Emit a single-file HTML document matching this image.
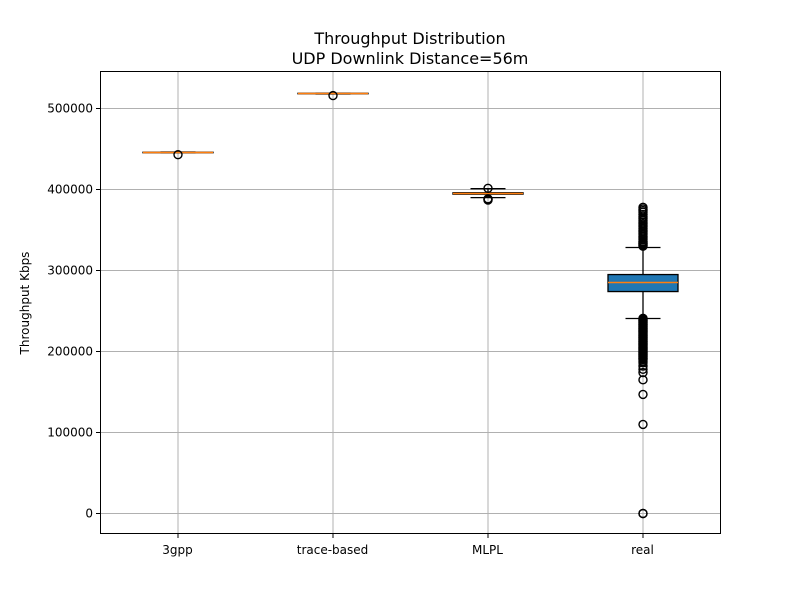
<!DOCTYPE html>
<html><head><meta charset="utf-8"><style>
body{margin:0;background:#fff;}
svg{display:block;font-family:"DejaVu Sans","Liberation Sans",sans-serif;}
</style></head><body>
<svg id="chart" width="800" height="600" viewBox="0 0 800 600">
<rect x="0" y="0" width="800" height="600" fill="#fff"/>
<text x="410" y="44" text-anchor="middle" font-size="16">Throughput Distribution</text>
<text x="410" y="64" text-anchor="middle" font-size="16">UDP Downlink Distance=56m</text>
<text transform="translate(29,303) rotate(-90)" text-anchor="middle" font-size="12">Throughput Kbps</text>
<g id="grid"></g><g id="marks"></g><g id="axes"></g>
</svg>
<script>
const categories=["3gpp","trace-based","MLPL","real"];
const q1s=[445500,518300,394200,274000];
const medians=[445700,518500,395000,285200];
const q3s=[446000,518800,396000,295000];
const whisLo=[445300,518000,390000,240700];
const whisHi=[446200,519000,401000,328400];
const outliers3gpp=[443000];
const outliersTrace=[516000];
const outliersMLPL=[401500,388500,387500,387000];
const outliersReal=[378000,376000,374000,372000,369000,366000,364000,362000,360000,358000,356000,354000,352000,350000,348000,346000,344000,342000,340000,338000,336000,335000,334000,333000,332000,331000,330000,
 241000,240000,239000,238000,237000,236000,235000,234000,233000,232000,231000,230000,229000,228000,227000,226000,225000,224000,223000,222000,221000,220000,219000,218000,217000,216000,215000,214000,213000,212000,211000,210000,209000,208000,207000,206000,205000,204000,203000,202000,201000,200000,199000,198000,197000,196000,195000,194000,193000,192000,191000,190000,188000,186000,
 182000,178000,174000,165000,147000,110000,0,0];
const yTicks=[0,100000,200000,300000,400000,500000];
const outlierSets=[outliers3gpp,outliersTrace,outliersMLPL,outliersReal];

const L=100,R=720,T=72,B=534;
const y=v=>513.5-v*81/100000;
const x=i=>L+(R-L)*(i+0.5)/categories.length;
const NS="http://www.w3.org/2000/svg";
function mk(tag,attrs,parent){const e=document.createElementNS(NS,tag);for(const k in attrs)e.setAttribute(k,attrs[k]);parent.appendChild(e);return e;}
const grid=document.getElementById('grid'),marks=document.getElementById('marks'),axes=document.getElementById('axes');

yTicks.forEach(t=>{
 const g=mk('line',{x1:L,x2:R,y1:y(t),y2:y(t),stroke:'#b0b0b0','stroke-width':1},grid);
 
 
 mk('line',{x1:L-4,x2:L,y1:y(t),y2:y(t),stroke:'#000'},axes);
 const tx=mk('text',{x:L-7,y:y(t)+4,'text-anchor':'end','font-size':12},axes);
 tx.textContent=String(t);
 
 
});
categories.forEach((c,i)=>{
 const g=mk('line',{x1:x(i)+0.5,x2:x(i)+0.5,y1:T,y2:B,stroke:'#b0b0b0'},grid);
 
 
 mk('line',{x1:x(i)+0.5,x2:x(i)+0.5,y1:B,y2:B+4,stroke:'#000'},axes);
 const tx=mk('text',{x:x(i),y:B+20,'text-anchor':'middle','font-size':12},axes);
 tx.textContent=c;
 
 
});
mk('rect',{x:L+0.5,y:T-0.5,width:R-L,height:B-T,fill:'none',stroke:'#000','stroke-width':1},axes);

categories.forEach((c,i)=>{
 const g=mk('g',{},marks);
 
 
 const cx=x(i)+0.5,hw=35,cw=17.5;
 mk('line',{x1:cx,x2:cx,y1:y(q3s[i]),y2:y(whisHi[i]),stroke:'#000','stroke-width':1.3},g);
 mk('line',{x1:cx,x2:cx,y1:y(q1s[i]),y2:y(whisLo[i]),stroke:'#000','stroke-width':1.3},g);
 mk('line',{x1:cx-cw,x2:cx+cw,y1:y(whisHi[i]),y2:y(whisHi[i]),stroke:'#000','stroke-width':1.3},g);
 mk('line',{x1:cx-cw,x2:cx+cw,y1:y(whisLo[i]),y2:y(whisLo[i]),stroke:'#000','stroke-width':1.3},g);
 mk('rect',{x:cx-hw,y:y(q3s[i]),width:2*hw,height:Math.max(0.5,y(q1s[i])-y(q3s[i])),fill:'#1f77b4',stroke:'#000','stroke-width':1.3},g);
 mk('line',{x1:cx-hw,x2:cx+hw,y1:y(medians[i]),y2:y(medians[i]),stroke:'#ff7f0e','stroke-width':1.5},g);
 outlierSets[i].forEach(v=>{
  const o=mk('circle',{cx:cx,cy:y(v),r:4,fill:'none',stroke:'#000','stroke-width':1.4},g);
  
  
 });
});
</script>
</body></html>
